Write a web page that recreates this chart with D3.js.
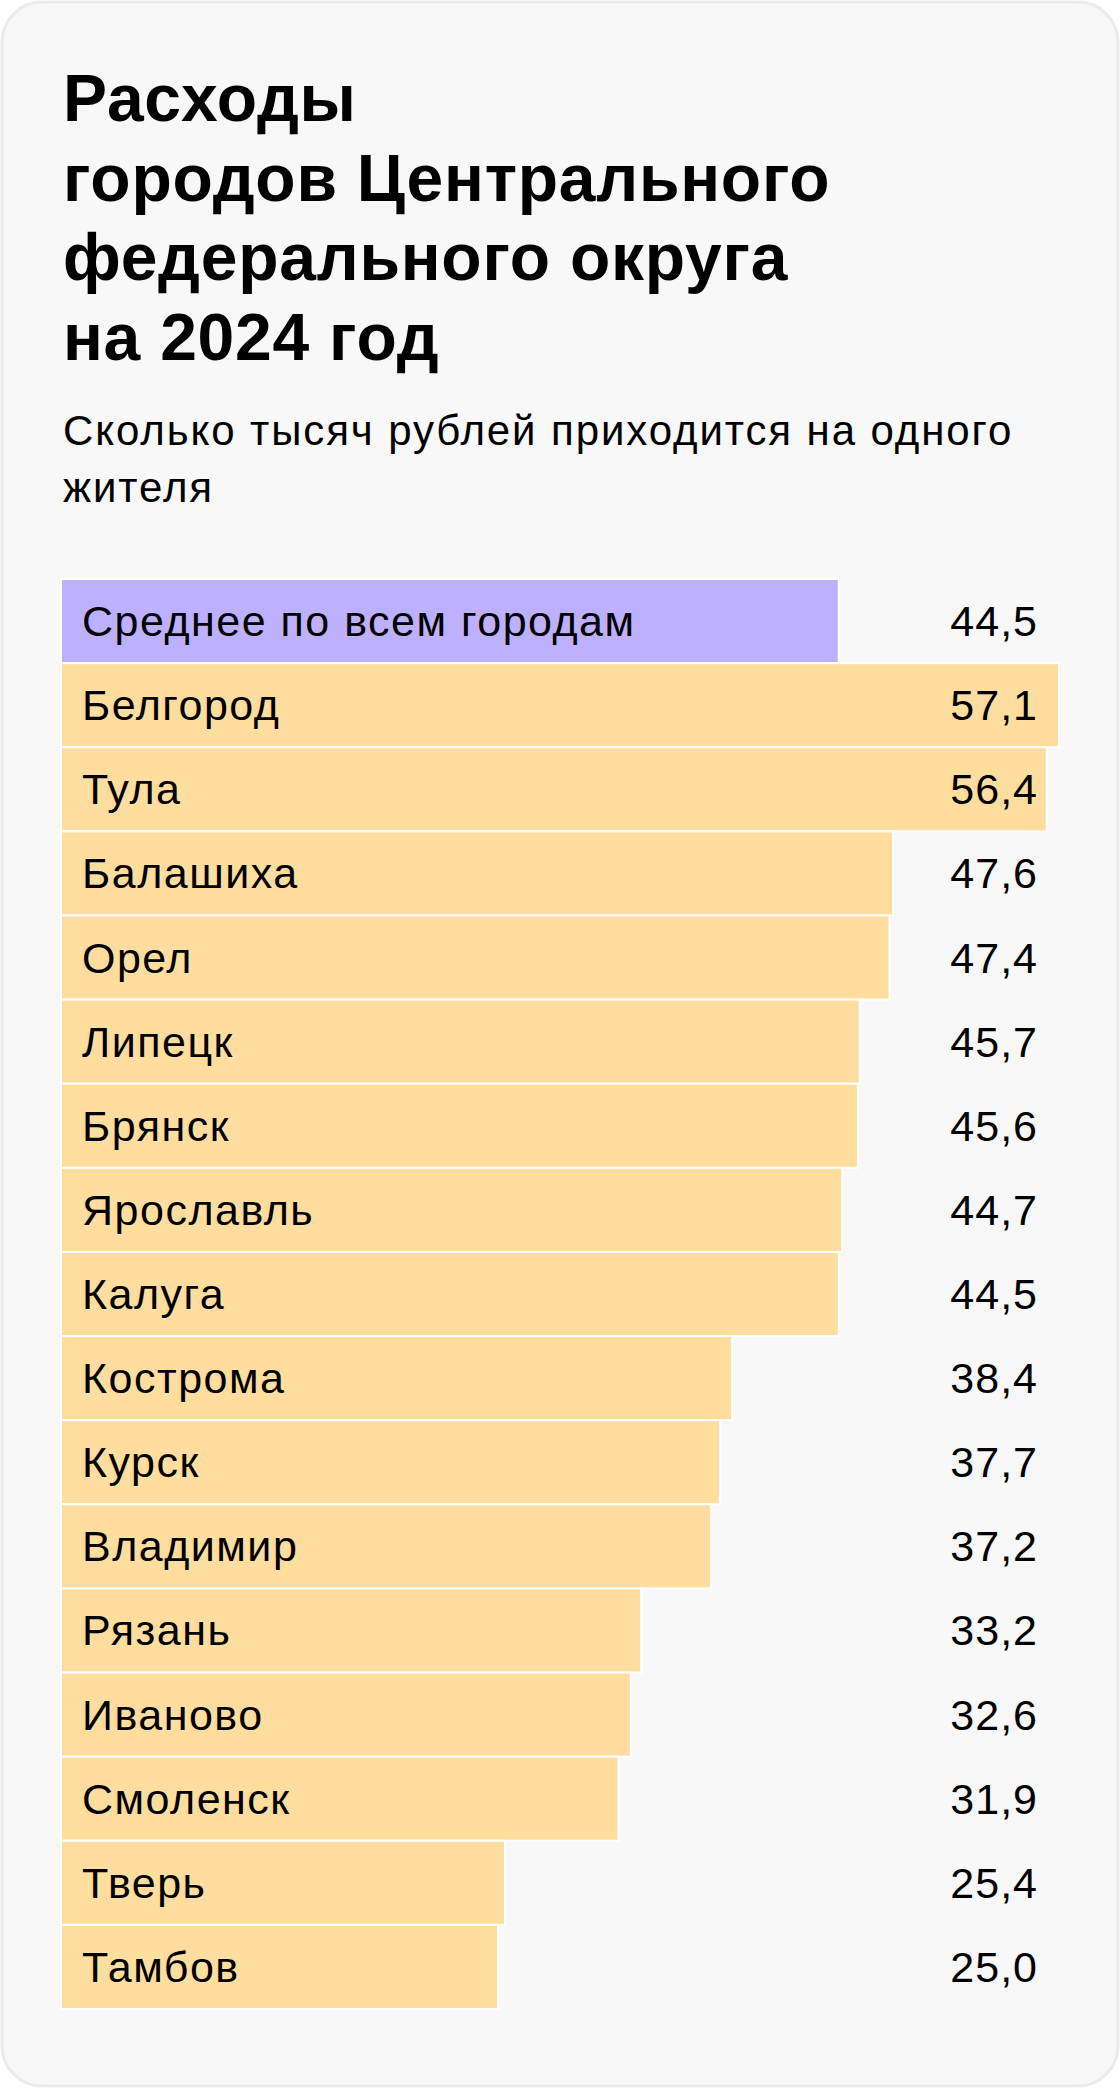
<!DOCTYPE html>
<html>
<head>
<meta charset="utf-8">
<script src="https://cdn.jsdelivr.net/npm/d3@7"></script>
<style>
  html, body { margin: 0; padding: 0; background: #ffffff; }
  svg { display: block; }
</style>
</head>
<body>
<svg id="chart" width="1120" height="2088"></svg>
<script>
const titleLines = ["Расходы", "городов Центрального", "федерального округа", "на 2024 год"];
const subtitleLines = ["Сколько тысяч рублей приходится на одного", "жителя"];
const categories = ["Среднее по всем городам", "Белгород", "Тула", "Балашиха", "Орел", "Липецк", "Брянск", "Ярославль", "Калуга", "Кострома", "Курск", "Владимир", "Рязань", "Иваново", "Смоленск", "Тверь", "Тамбов"];
const values = [44.5, 57.1, 56.4, 47.6, 47.4, 45.7, 45.6, 44.7, 44.5, 38.4, 37.7, 37.2, 33.2, 32.6, 31.9, 25.4, 25.0];
const highlight = ["Среднее по всем городам"];

const W = 1120, H = 2088;
const svg = d3.select("#chart");
const font = "'Liberation Sans', Arial, sans-serif";

// card
svg.append("rect")
  .attr("x", 2).attr("y", 2).attr("width", W - 4).attr("height", H - 4)
  .attr("rx", 40).attr("ry", 40)
  .attr("fill", "#f8f8f8").attr("stroke", "#ebebeb").attr("stroke-width", 3);

// title
svg.append("g").selectAll("text").data(titleLines).join("text")
  .attr("x", 63).attr("y", (d, i) => 121 + i * 79.5)
  .attr("font-family", font).attr("font-weight", 700).attr("font-size", 66)
  .attr("letter-spacing", 0.75)
  .attr("fill", "#000").text(d => d);

// subtitle
svg.append("g").selectAll("text").data(subtitleLines).join("text")
  .attr("x", 63).attr("y", (d, i) => 445 + i * 57)
  .attr("font-family", font).attr("font-size", 42)
  .attr("letter-spacing", 1.9)
  .attr("fill", "#000").text(d => d);

const data = categories.map((c, i) => ({ c, v: values[i] }));

const x = d3.scaleLinear().domain([0, d3.max(values)]).range([61, 1059]);
const y = d3.scaleBand().domain(categories).range([579, 2009]).paddingInner(0.024).paddingOuter(0.012);

const loc = d3.formatLocale({ decimal: ",", thousands: " ", grouping: [3], currency: ["", ""] });
const fmt = loc.format(".1f");

const g = svg.append("g");
g.selectAll("rect.bar").data(data).join("rect")
  .attr("class", "bar")
  .attr("x", x(0))
  .attr("y", d => y(d.c) - 1)
  .attr("width", d => x(d.v) - x(0))
  .attr("height", y.bandwidth() + 2)
  .attr("fill", d => highlight.includes(d.c) ? "#bdb0ff" : "#ffdd9e")
  .attr("stroke", "#ffffff").attr("stroke-width", 2);

g.selectAll("text.cat").data(data).join("text")
  .attr("class", "cat")
  .attr("x", 82)
  .attr("y", d => y(d.c) + y.bandwidth() / 2 + 15)
  .attr("font-family", font).attr("font-size", 43)
  .attr("letter-spacing", 1.5)
  .attr("fill", "#000").text(d => d.c);

g.selectAll("text.val").data(data).join("text")
  .attr("class", "val")
  .attr("x", 1038)
  .attr("text-anchor", "end")
  .attr("y", d => y(d.c) + y.bandwidth() / 2 + 15)
  .attr("font-family", font).attr("font-size", 43)
  .attr("letter-spacing", 1)
  .attr("fill", "#000").text(d => fmt(d.v));
</script>
</body>
</html>
